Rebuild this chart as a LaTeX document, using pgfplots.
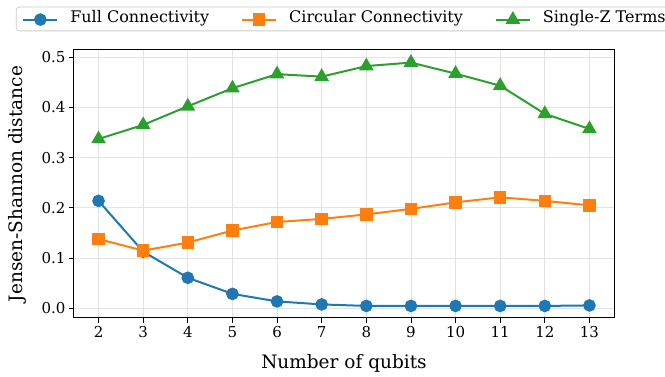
\documentclass[border=0pt]{standalone}
\usepackage{fontspec}
\setmainfont{DejaVu Serif}
\usepackage{pgfplots}
\pgfplotsset{compat=1.18}
\definecolor{tabblue}{HTML}{1F77B4}
\definecolor{taborange}{HTML}{FF7F0E}
\definecolor{tabgreen}{HTML}{2CA02C}
\begin{document}
\begin{tikzpicture}
\useasboundingbox (-74pt,-59pt) rectangle (591pt,318pt);
\begin{axis}[
  scale only axis,
  width=540pt, height=268pt,
  xmin=1.45, xmax=13.55,
  ymin=-0.019, ymax=0.514,
  xtick={2,3,...,13},
  ytick={0,0.1,0.2,0.3,0.4,0.5},
  yticklabel style={/pgf/number format/.cd, fixed, fixed zerofill, precision=1},
  /pgf/number format/assume math mode=true,
  tick label style={font=\fontsize{15}{18}\selectfont},
  tick align=outside,
  major tick length=5pt,
  tick style={black, line width=0.8pt},
  xtick pos=bottom, ytick pos=left,
  axis line style={black, line width=1pt},
  grid=major,
  major grid style={black!11, line width=0.8pt},
  xlabel={Number of qubits},
  ylabel={Jensen-Shannon distance},
  label style={font=\fontsize{18.5}{22}\selectfont},
  xlabel style={at={(axis description cs:0.5,-0.168)}, anchor=center},
  ylabel style={at={(axis description cs:-0.1056,0.5)}, anchor=center},
  legend columns=3,
  legend image code/.code={\draw[#1, sharp corners, mark repeat=2, mark phase=2] plot coordinates {(0pt,0pt) (17pt,0pt) (34pt,0pt)};},
  legend style={at={(0.5,1.1157)}, anchor=center,
    draw=black!20, line width=0.8pt, rounded corners=3pt,
    font=\fontsize{16}{19}\selectfont,
    inner xsep=6pt, inner ysep=6pt,
    nodes={inner sep=0pt, text depth=0.24em, text height=0.76em},
    /tikz/every odd column/.append style={column sep=12pt},
    /tikz/every even column/.append style={column sep=32pt}},
]
\addplot[tabblue, line width=2pt, mark=*, mark size=5.3pt, mark options={solid, sharp corners}] coordinates {
 (2,0.214) (3,0.113) (4,0.061) (5,0.029) (6,0.014) (7,0.008) (8,0.005) (9,0.005) (10,0.005) (11,0.005) (12,0.005) (13,0.006)};
\addlegendentry{Full Connectivity}
\addplot[taborange, line width=2pt, mark=square*, mark size=5.3pt, mark options={solid, sharp corners}] coordinates {
 (2,0.138) (3,0.115) (4,0.131) (5,0.155) (6,0.172) (7,0.178) (8,0.187) (9,0.198) (10,0.211) (11,0.221) (12,0.214) (13,0.205)};
\addlegendentry{Circular Connectivity}
\addplot[tabgreen, line width=2pt, mark=triangle*, mark size=6.5pt, mark options={solid, sharp corners}] coordinates {
 (2,0.337) (3,0.365) (4,0.402) (5,0.438) (6,0.466) (7,0.461) (8,0.482) (9,0.489) (10,0.467) (11,0.443) (12,0.387) (13,0.357)};
\addlegendentry{Single-Z Terms}
\end{axis}
\end{tikzpicture}
\end{document}
